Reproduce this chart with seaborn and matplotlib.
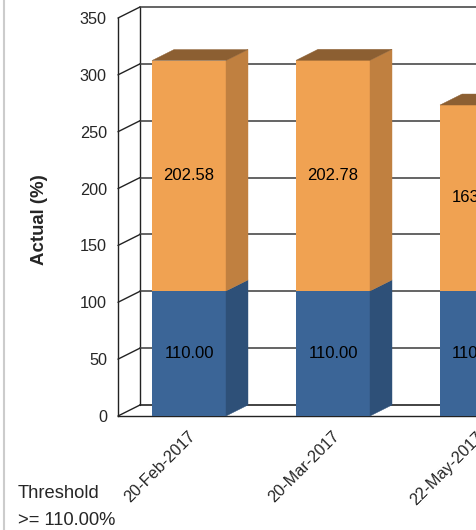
import matplotlib
matplotlib.use("Agg")
import matplotlib.pyplot as plt
import matplotlib.transforms as mtransforms
from matplotlib.patches import Polygon
from matplotlib.lines import Line2D
import seaborn as sns
import pandas as pd

# ---- data ----
categories = ["20-Feb-2017", "20-Mar-2017", "22-May-2017"]
threshold_vals = [110.00, 110.00, 110.00]
actual_vals = [202.58, 202.78, 163.47]
y_ticks = [0, 50, 100, 150, 200, 250, 300, 350]

sns.set_style("white")
plt.rcParams["font.family"] = ["Liberation Sans", "DejaVu Sans"]

W, H, DPI = 477, 530, 100
fig = plt.figure(figsize=(W / DPI, H / DPI), dpi=DPI)

# front plane geometry (pixels)
ax_left_px, ax_bottom_px, ax_top_px = 118, 416, 18
cat_px = 144.0
xmin = -71.0 / cat_px
xmax = 2.5
ax_w_px = (xmax - xmin) * cat_px
ax = fig.add_axes([ax_left_px / W, (H - ax_bottom_px) / H,
                   ax_w_px / W, (ax_bottom_px - ax_top_px) / H])

orange_front, orange_side, orange_top = "#F0A252", "#C08040", "#8C5F32"
blue_front, blue_side = "#3B6597", "#2E5078"

totals = [b + a for b, a in zip(threshold_vals, actual_vals)]
df = pd.DataFrame({"cat": categories, "total": totals, "base": threshold_vals})
bw = 74.0 / cat_px

sns.barplot(data=df, x="cat", y="total", color=orange_front, saturation=1,
            width=bw, linewidth=0, ax=ax, zorder=3)
sns.barplot(data=df, x="cat", y="base", color=blue_front, saturation=1,
            width=bw, linewidth=0, ax=ax, zorder=3)

ax.set_xlim(xmin, xmax)
ax.set_ylim(0, 350)

# depth offsets
upp = 350.0 / (ax_bottom_px - ax_top_px)  # units per pixel
ddx = 22.0 / cat_px
ddy = 11.0 * upp

# back wall, left wall and gridlines
gcol = "#4a4a4a"
bx = xmin + ddx
ax.add_line(Line2D([bx, bx], [ddy, 350 + ddy], color="#222222", lw=1.0,
                   clip_on=False, zorder=1))
for v in y_ticks:
    ax.add_line(Line2D([bx, xmax + 1], [v + ddy, v + ddy], color=gcol if v else "#222222",
                       lw=1.2, clip_on=False, zorder=1))
    ax.add_line(Line2D([xmin, bx], [v, v + ddy], color="#222222", lw=1.0,
                       clip_on=False, zorder=1))

# 3D side and top faces
for i, (b, t) in enumerate(zip(threshold_vals, totals)):
    r = i + bw / 2
    l = i - bw / 2
    ax.add_patch(Polygon([(r, 0), (r + ddx, ddy), (r + ddx, b + ddy), (r, b)],
                         closed=True, fc=blue_side, ec=blue_side, lw=0.3,
                         zorder=3, clip_on=False))
    ax.add_patch(Polygon([(r, b), (r + ddx, b + ddy), (r + ddx, t + ddy), (r, t)],
                         closed=True, fc=orange_side, ec=orange_side, lw=0.3,
                         zorder=3, clip_on=False))
    ax.add_patch(Polygon([(l, t), (l + ddx, t + ddy), (r + ddx, t + ddy), (r, t)],
                         closed=True, fc=orange_top, ec=orange_top, lw=0.3,
                         zorder=3, clip_on=False))
    ax.text(i, b / 2, f"{b:.2f}", ha="center", va="center", fontsize=12,
            color="black", zorder=5)
    ax.text(i, (b + t) / 2, f"{t - b:.2f}", ha="center", va="center", fontsize=12,
            color="black", zorder=5)

# spines
for s in ["top", "right"]:
    ax.spines[s].set_visible(False)
for s in ["left", "bottom"]:
    ax.spines[s].set_visible(True)
    ax.spines[s].set_color("#222222")
    ax.spines[s].set_linewidth(1.0)
    ax.spines[s].set_zorder(2)

ax.set_yticks(y_ticks)
ax.set_yticklabels([str(v) for v in y_ticks])
ax.tick_params(axis="y", length=0, pad=8, labelsize=11.7)
ax.tick_params(axis="x", length=0, pad=13, labelsize=11.7)
ax.set_xticks(range(len(categories)))
ax.set_xticklabels(categories, rotation=45, ha="right", va="center",
                   rotation_mode="anchor")
off = mtransforms.ScaledTranslation(4 / DPI, 0, fig.dpi_scale_trans)
for lab in ax.get_xticklabels():
    lab.set_transform(lab.get_transform() + off)
ax.set_xlabel("")
ax.set_ylabel("")
ax.patch.set_alpha(0)

fig.text(40 / W, (H - 220) / H, "Actual (%)", rotation=90, ha="center", va="center",
         fontsize=13.4, fontweight="bold")
fig.text(18 / W, (H - 498) / H, "Threshold", ha="left", va="baseline", fontsize=13.2)
fig.text(18 / W, (H - 525) / H, ">= 110.00%", ha="left", va="baseline", fontsize=13.2)

fig.add_artist(Line2D([4.5 / W, 4.5 / W], [0, 1], transform=fig.transFigure,
                      color="#cccccc", lw=1.5))

fig.savefig("out.png", dpi=DPI)
